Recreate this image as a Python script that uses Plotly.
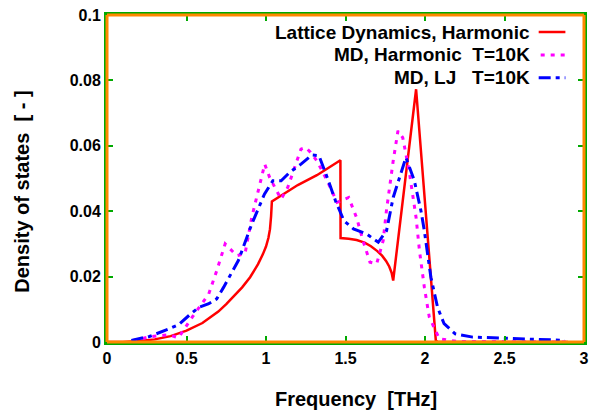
import plotly.graph_objects as go

# Lattice Dynamics, Harmonic (red, solid)
ld_freq = [0.0, 0.1, 0.2, 0.3, 0.4, 0.5, 0.6, 0.7, 0.75, 0.8, 0.85, 0.9, 0.95, 0.98, 1.0, 1.015, 1.025,
           1.032, 1.037, 1.2, 1.32, 1.468, 1.469, 1.52, 1.57, 1.62, 1.66, 1.7, 1.73, 1.755, 1.775, 1.79,
           1.80, 1.944, 2.068, 2.08, 2.9]
ld_dos = [0.0, 0.0, 0.0003, 0.0008, 0.0018, 0.0035, 0.0058, 0.0093, 0.0116, 0.0141, 0.0167, 0.0198, 0.0238,
          0.0268, 0.0292, 0.0318, 0.0345, 0.0385, 0.043, 0.048, 0.051, 0.0556, 0.0318, 0.0316, 0.0312,
          0.0304, 0.0293, 0.0278, 0.0264, 0.0248, 0.0231, 0.0212, 0.0188, 0.0773, 0.0005, 0.0, 0.0]

# MD, Harmonic T=10K (magenta, dotted)
mdh_freq = [0.15, 0.27, 0.39, 0.45, 0.536, 0.64, 0.69, 0.743, 0.816, 0.868, 0.91, 0.992, 1.023,
            1.095, 1.137, 1.22, 1.25, 1.28, 1.32, 1.385, 1.447, 1.52, 1.57, 1.61, 1.654, 1.696,
            1.737, 1.757, 1.80, 1.83, 1.86, 1.90, 1.944, 1.965, 1.996, 2.027, 2.09, 2.2, 2.9]
mdh_dos = [0.0003, 0.0016, 0.0022, 0.0013, 0.0076, 0.0147, 0.0218, 0.030, 0.0264, 0.027, 0.038, 0.0544, 0.0503,
           0.0437, 0.0473, 0.059, 0.0595, 0.058, 0.0554, 0.0493, 0.0427, 0.0442, 0.038, 0.031, 0.0244, 0.0239,
           0.031, 0.040, 0.0554, 0.0646, 0.0625, 0.0524, 0.038, 0.028, 0.0167, 0.0076, 0.001, 0.0002, 0.0]

# MD, LJ T=10K (blue, dash-dot)
mdlj_freq = [0.153, 0.267, 0.39, 0.45, 0.515, 0.578, 0.64, 0.69, 0.733, 0.826, 0.91, 0.99, 1.043,
             1.095, 1.147, 1.22, 1.29, 1.333, 1.385, 1.437, 1.49, 1.55, 1.634, 1.706, 1.758, 1.80,
             1.88, 1.933, 1.975, 1.996, 2.037, 2.079, 2.12, 2.19, 2.3, 2.61, 2.88]
mdlj_dos = [0.0005, 0.0017, 0.004, 0.0053, 0.0081, 0.0106, 0.0117, 0.0132, 0.0167, 0.0249, 0.036, 0.0452, 0.0493,
            0.0493, 0.0518, 0.0544, 0.0572, 0.057, 0.0503, 0.0432, 0.0371, 0.0346, 0.033, 0.0305, 0.034, 0.0442,
            0.0564, 0.0493, 0.040, 0.034, 0.0198, 0.0106, 0.0056, 0.0025, 0.0015, 0.001, 0.0005]

x_ticks = [0, 0.5, 1, 1.5, 2, 2.5, 3]
x_tick_labels = ["0", "0.5", "1", "1.5", "2", "2.5", "3"]
y_ticks = [0, 0.02, 0.04, 0.06, 0.08, 0.1]
y_tick_labels = ["0", "0.02", "0.04", "0.06", "0.08", "0.1"]

names = ["Lattice Dynamics, Harmonic", "MD, Harmonic  T=10K", "MD, LJ   T=10K"]
colors = ["#ff0000", "#ff00ff", "#0000ff"]
dashes = ["solid", "0px,2px,4px,4px", "12px,5px,4px,5px"]
widths = [2.5, 3, 3]

fig = go.Figure()
for xs, ys, c, d, w, n in zip([ld_freq, mdh_freq, mdlj_freq], [ld_dos, mdh_dos, mdlj_dos],
                              colors, dashes, widths, names):
    fig.add_trace(go.Scatter(x=xs, y=ys, mode="lines", name=n,
                             line=dict(color=c, width=w, dash=d), showlegend=False))

tfont = dict(family="Liberation Sans, Arial, sans-serif", color="#000000", weight="bold")
frame_color = "#ff8800"

fig.update_xaxes(range=[0, 3], tickvals=x_ticks, ticktext=x_tick_labels,
                 showgrid=False, zeroline=False, showline=True, linewidth=3, linecolor="#00aa00",
                 mirror="ticks", ticks="inside", ticklen=6, tickwidth=2, tickcolor="#00aa00",
                 tickfont=dict(size=16, **tfont))
fig.update_yaxes(range=[0, 0.1], tickvals=y_ticks, ticktext=y_tick_labels,
                 showgrid=False, zeroline=False, showline=True, linewidth=3, linecolor="#00aa00",
                 mirror="ticks", ticks="inside", ticklen=6, tickwidth=2, tickcolor="#00aa00",
                 tickfont=dict(size=16, **tfont))

# frame around the plot area, drawn as four line shapes
frame_edges = [(0, 0, 1, 0), (1, 0, 1, 1), (1, 1, 0, 1), (0, 1, 0, 0)]
for x0, y0, x1, y1 in frame_edges:
    fig.add_shape(type="line", xref="paper", yref="paper", x0=x0, y0=y0, x1=x1, y1=y1,
                  line=dict(color=frame_color, width=3))

# legend (text right-aligned, sample to the right)
legend_y = [0.948, 0.878, 0.808]
for n, c, d, w, yy in zip(names, colors, dashes, widths, legend_y):
    fig.add_annotation(x=0.892, y=yy, xref="paper", yref="paper", text=n, showarrow=False,
                       xanchor="right", yanchor="middle", font=dict(size=19, **tfont))
    fig.add_shape(type="line", xref="paper", yref="paper", x0=0.905, x1=0.961, y0=yy, y1=yy,
                  line=dict(color=c, width=w, dash=d))

fig.add_annotation(x=0.523, y=-0.175, xref="paper", yref="paper", text="Frequency  [THz]",
                   showarrow=False, xanchor="center", yanchor="middle", font=dict(size=20, **tfont))
fig.add_annotation(x=-0.18, y=0.46, xref="paper", yref="paper", text="Density of states  [ - ]",
                   showarrow=False, textangle=-90, xanchor="center", yanchor="middle",
                   font=dict(size=20, **tfont))

fig.update_layout(width=592, height=414, margin=dict(l=107, r=3, t=15, b=72),
                  paper_bgcolor="#ffffff", plot_bgcolor="#ffffff")
fig.write_html("out.html", config={"displayModeBar": False},
               post_script="document.body.style.margin='0';document.body.style.overflow='hidden';")
